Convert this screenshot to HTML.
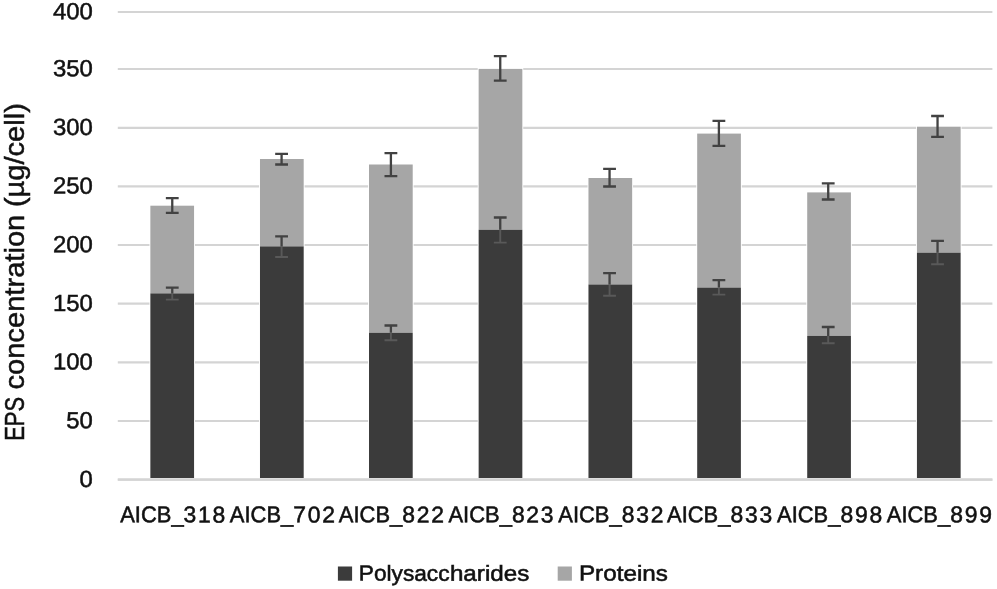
<!DOCTYPE html>
<html lang="en"><head><meta charset="utf-8"><title>EPS concentration</title>
<style>
html,body{margin:0;padding:0;background:#fff;}
body{width:997px;height:589px;overflow:hidden;}
svg{display:block;}
text{font-family:"Liberation Sans",sans-serif;fill:#111;}
</style></head><body>
<svg width="997" height="589" viewBox="0 0 997 589">
<rect width="997" height="589" fill="#fff"/>
<g stroke="#d4d4d4" stroke-width="2.2">
<line x1="117.8" y1="12.00" x2="992.4" y2="12.00"/>
<line x1="117.8" y1="69.00" x2="992.4" y2="69.00"/>
<line x1="117.8" y1="127.80" x2="992.4" y2="127.80"/>
<line x1="117.8" y1="186.40" x2="992.4" y2="186.40"/>
<line x1="117.8" y1="245.00" x2="992.4" y2="245.00"/>
<line x1="117.8" y1="303.70" x2="992.4" y2="303.70"/>
<line x1="117.8" y1="362.40" x2="992.4" y2="362.40"/>
<line x1="117.8" y1="421.00" x2="992.4" y2="421.00"/>
<line x1="117.8" y1="479.70" x2="992.4" y2="479.70"/>
</g>
<g font-size="23.4" text-anchor="end" stroke="#111" stroke-width="0.5">
<text transform="translate(92.9 19.25) matrix(1 0.001 0 1 0 0)" textLength="39.9" lengthAdjust="spacingAndGlyphs">400</text>
<text transform="translate(92.9 76.25) matrix(1 0.001 0 1 0 0)" textLength="39.9" lengthAdjust="spacingAndGlyphs">350</text>
<text transform="translate(92.9 135.05) matrix(1 0.001 0 1 0 0)" textLength="39.9" lengthAdjust="spacingAndGlyphs">300</text>
<text transform="translate(92.9 193.65) matrix(1 0.001 0 1 0 0)" textLength="39.9" lengthAdjust="spacingAndGlyphs">250</text>
<text transform="translate(92.9 252.25) matrix(1 0.001 0 1 0 0)" textLength="39.9" lengthAdjust="spacingAndGlyphs">200</text>
<text transform="translate(92.9 310.95) matrix(1 0.001 0 1 0 0)" textLength="39.9" lengthAdjust="spacingAndGlyphs">150</text>
<text transform="translate(92.9 369.65) matrix(1 0.001 0 1 0 0)" textLength="39.9" lengthAdjust="spacingAndGlyphs">100</text>
<text transform="translate(92.9 428.25) matrix(1 0.001 0 1 0 0)" textLength="26.6" lengthAdjust="spacingAndGlyphs">50</text>
<text transform="translate(92.9 486.95) matrix(1 0.001 0 1 0 0)" textLength="13.3" lengthAdjust="spacingAndGlyphs">0</text>
</g>
<rect x="149.46" y="204.80" width="45.5" height="271.20" fill="#fff"/>
<rect x="259.09" y="158.10" width="45.5" height="317.90" fill="#fff"/>
<rect x="368.11" y="163.60" width="45.5" height="312.40" fill="#fff"/>
<rect x="477.74" y="68.00" width="45.5" height="408.00" fill="#fff"/>
<rect x="587.56" y="177.10" width="45.5" height="298.90" fill="#fff"/>
<rect x="696.29" y="132.70" width="45.5" height="343.30" fill="#fff"/>
<rect x="806.31" y="191.50" width="45.5" height="284.50" fill="#fff"/>
<rect x="916.04" y="125.80" width="45.5" height="350.20" fill="#fff"/>
<rect x="150.36" y="205.70" width="43.7" height="87.70" fill="#a6a6a6"/>
<rect x="150.36" y="293.40" width="43.7" height="184.60" fill="#3b3b3b"/>
<path d="M165.86 198.10H178.66M172.26 198.10V212.80M165.86 212.80H178.66" stroke="#424242" stroke-width="2.3" fill="none"/>
<path d="M165.86 287.60H178.66M172.26 287.60V293.40" stroke="#424242" stroke-width="2.3" fill="none"/>
<path d="M172.26 293.40V299.60M165.86 299.60H178.66" stroke="#595959" stroke-width="1.9" fill="none"/>
<rect x="259.99" y="159.00" width="43.7" height="87.40" fill="#a6a6a6"/>
<rect x="259.99" y="246.40" width="43.7" height="231.60" fill="#3b3b3b"/>
<path d="M275.19 153.80H287.99M281.59 153.80V164.50M275.19 164.50H287.99" stroke="#424242" stroke-width="2.3" fill="none"/>
<path d="M275.19 236.30H287.99M281.59 236.30V246.40" stroke="#424242" stroke-width="2.3" fill="none"/>
<path d="M281.59 246.40V257.00M275.19 257.00H287.99" stroke="#595959" stroke-width="1.9" fill="none"/>
<rect x="369.01" y="164.50" width="43.7" height="168.30" fill="#a6a6a6"/>
<rect x="369.01" y="332.80" width="43.7" height="145.20" fill="#3b3b3b"/>
<path d="M384.51 153.10H397.31M390.91 153.10V176.10M384.51 176.10H397.31" stroke="#424242" stroke-width="2.3" fill="none"/>
<path d="M384.51 325.50H397.31M390.91 325.50V332.80" stroke="#424242" stroke-width="2.3" fill="none"/>
<path d="M390.91 332.80V340.20M384.51 340.20H397.31" stroke="#595959" stroke-width="1.9" fill="none"/>
<rect x="478.64" y="68.90" width="43.7" height="160.90" fill="#a6a6a6"/>
<rect x="478.64" y="229.80" width="43.7" height="248.20" fill="#3b3b3b"/>
<path d="M493.84 56.20H506.64M500.24 56.20V80.70M493.84 80.70H506.64" stroke="#424242" stroke-width="2.3" fill="none"/>
<path d="M493.84 217.50H506.64M500.24 217.50V229.80" stroke="#424242" stroke-width="2.3" fill="none"/>
<path d="M500.24 229.80V242.60M493.84 242.60H506.64" stroke="#595959" stroke-width="1.9" fill="none"/>
<rect x="588.46" y="178.00" width="43.7" height="106.50" fill="#a6a6a6"/>
<rect x="588.46" y="284.50" width="43.7" height="193.50" fill="#3b3b3b"/>
<path d="M603.16 168.80H615.96M609.56 168.80V186.50M603.16 186.50H615.96" stroke="#424242" stroke-width="2.3" fill="none"/>
<path d="M603.16 273.20H615.96M609.56 273.20V284.50" stroke="#424242" stroke-width="2.3" fill="none"/>
<path d="M609.56 284.50V295.80M603.16 295.80H615.96" stroke="#595959" stroke-width="1.9" fill="none"/>
<rect x="697.19" y="133.60" width="43.7" height="154.00" fill="#a6a6a6"/>
<rect x="697.19" y="287.60" width="43.7" height="190.40" fill="#3b3b3b"/>
<path d="M712.49 120.80H725.29M718.89 120.80V145.90M712.49 145.90H725.29" stroke="#424242" stroke-width="2.3" fill="none"/>
<path d="M712.49 280.20H725.29M718.89 280.20V287.60" stroke="#424242" stroke-width="2.3" fill="none"/>
<path d="M718.89 287.60V294.60M712.49 294.60H725.29" stroke="#595959" stroke-width="1.9" fill="none"/>
<rect x="807.21" y="192.40" width="43.7" height="143.50" fill="#a6a6a6"/>
<rect x="807.21" y="335.90" width="43.7" height="142.10" fill="#3b3b3b"/>
<path d="M821.81 183.30H834.61M828.21 183.30V199.50M821.81 199.50H834.61" stroke="#424242" stroke-width="2.3" fill="none"/>
<path d="M821.81 327.00H834.61M828.21 327.00V335.90" stroke="#424242" stroke-width="2.3" fill="none"/>
<path d="M828.21 335.90V343.30M821.81 343.30H834.61" stroke="#595959" stroke-width="1.9" fill="none"/>
<rect x="916.94" y="126.70" width="43.7" height="126.00" fill="#a6a6a6"/>
<rect x="916.94" y="252.70" width="43.7" height="225.30" fill="#3b3b3b"/>
<path d="M931.14 116.00H943.94M937.54 116.00V136.80M931.14 136.80H943.94" stroke="#424242" stroke-width="2.3" fill="none"/>
<path d="M931.14 240.80H943.94M937.54 240.80V252.70" stroke="#424242" stroke-width="2.3" fill="none"/>
<path d="M937.54 252.70V264.30M931.14 264.30H943.94" stroke="#595959" stroke-width="1.9" fill="none"/>
<line x1="117.8" y1="479.7" x2="992.4" y2="479.7" stroke="#d4d4d4" stroke-width="2.2"/>
<g font-size="22.9" stroke="#111" stroke-width="0.55">
<text transform="translate(120.21 522.3) matrix(1 0.001 0 1 0 0)"><tspan x="0" textLength="63.4" lengthAdjust="spacingAndGlyphs">AICB_</tspan><tspan x="63.4" textLength="41.7" lengthAdjust="spacing">318</tspan></text>
<text transform="translate(229.84 522.3) matrix(1 0.001 0 1 0 0)"><tspan x="0" textLength="63.4" lengthAdjust="spacingAndGlyphs">AICB_</tspan><tspan x="63.4" textLength="41.7" lengthAdjust="spacing">702</tspan></text>
<text transform="translate(338.86 522.3) matrix(1 0.001 0 1 0 0)"><tspan x="0" textLength="63.4" lengthAdjust="spacingAndGlyphs">AICB_</tspan><tspan x="63.4" textLength="41.7" lengthAdjust="spacing">822</tspan></text>
<text transform="translate(448.49 522.3) matrix(1 0.001 0 1 0 0)"><tspan x="0" textLength="63.4" lengthAdjust="spacingAndGlyphs">AICB_</tspan><tspan x="63.4" textLength="41.7" lengthAdjust="spacing">823</tspan></text>
<text transform="translate(558.31 522.3) matrix(1 0.001 0 1 0 0)"><tspan x="0" textLength="63.4" lengthAdjust="spacingAndGlyphs">AICB_</tspan><tspan x="63.4" textLength="41.7" lengthAdjust="spacing">832</tspan></text>
<text transform="translate(667.04 522.3) matrix(1 0.001 0 1 0 0)"><tspan x="0" textLength="63.4" lengthAdjust="spacingAndGlyphs">AICB_</tspan><tspan x="63.4" textLength="41.7" lengthAdjust="spacing">833</tspan></text>
<text transform="translate(777.06 522.3) matrix(1 0.001 0 1 0 0)"><tspan x="0" textLength="63.4" lengthAdjust="spacingAndGlyphs">AICB_</tspan><tspan x="63.4" textLength="41.7" lengthAdjust="spacing">898</tspan></text>
<text transform="translate(886.79 522.3) matrix(1 0.001 0 1 0 0)"><tspan x="0" textLength="63.4" lengthAdjust="spacingAndGlyphs">AICB_</tspan><tspan x="63.4" textLength="41.7" lengthAdjust="spacing">899</tspan></text>
</g>
<text transform="translate(24.3 0) rotate(-90)" y="0" font-size="27.4" stroke="#111" stroke-width="0.5"><tspan x="-440.80" textLength="43.9" lengthAdjust="spacingAndGlyphs">EPS</tspan> <tspan x="-389.60" textLength="174.9" lengthAdjust="spacingAndGlyphs">concentration</tspan> <tspan x="-207.10" textLength="103.9" lengthAdjust="spacingAndGlyphs">(µg/cell)</tspan></text>
<rect x="337.9" y="566.5" width="14.2" height="14.2" fill="#3b3b3b"/>
<text transform="translate(358.8 580.6) matrix(1 0.001 0 1 0 0)" font-size="21.8" stroke="#111" stroke-width="0.55"><tspan x="0" textLength="90.7" lengthAdjust="spacingAndGlyphs">Polysacc</tspan><tspan x="91.1" textLength="79.4" lengthAdjust="spacingAndGlyphs">harides</tspan></text>
<rect x="557.7" y="566.5" width="14.2" height="14.2" fill="#a6a6a6"/>
<text transform="translate(578.9 580.6) matrix(1 0.001 0 1 0 0)" font-size="21.8" textLength="89" lengthAdjust="spacingAndGlyphs" stroke="#111" stroke-width="0.55">Proteins</text>
</svg></body></html>
